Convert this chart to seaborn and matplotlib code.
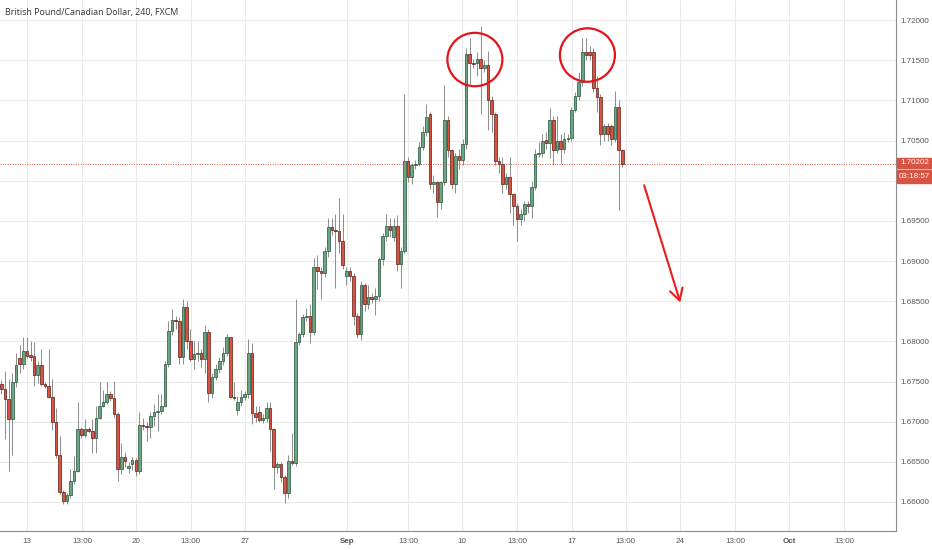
import numpy as np
import pandas as pd
import matplotlib.pyplot as plt
import seaborn as sns
from matplotlib.patches import Ellipse, Rectangle

# ============================================
# DATA - GBP/CAD 4h candles
# ============================================

opens = [
    1.6747, 1.6741, 1.6728, 1.6703, 1.6750, 1.6779, 1.6772, 1.6788, 1.6783, 1.6782,
    1.6758, 1.6770, 1.6747, 1.6745, 1.6731, 1.6700, 1.6659, 1.6613, 1.6601, 1.6609,
    1.6626, 1.6639, 1.6691, 1.6683, 1.6691, 1.6689, 1.6680, 1.6705, 1.6720, 1.6724,
    1.6734, 1.6730, 1.6709, 1.6641, 1.6656, 1.6642, 1.6647, 1.6652, 1.6638, 1.6696,
    1.6695, 1.6693, 1.6707, 1.6712, 1.6713, 1.6720, 1.6772, 1.6813, 1.6826, 1.6825,
    1.6780, 1.6843, 1.6801, 1.6778, 1.6784, 1.6785, 1.6778, 1.6811, 1.6736, 1.6755,
    1.6765, 1.6775, 1.6786, 1.6805, 1.6731, 1.6715, 1.6724, 1.6731, 1.6734, 1.6785,
    1.6711, 1.6712, 1.6702, 1.6704, 1.6717, 1.6691, 1.6644, 1.6647, 1.6631, 1.6611,
    1.6651, 1.6649, 1.6799, 1.6809, 1.6830, 1.6832, 1.6811, 1.6893, 1.6888, 1.6885,
    1.6912, 1.6942, 1.6938, 1.6937, 1.6925, 1.6881, 1.6888, 1.6881, 1.6831, 1.6809,
    1.6870, 1.6847, 1.6855, 1.6853, 1.6856, 1.6902, 1.6931, 1.6944, 1.6930, 1.6944,
    1.6896, 1.6913, 1.7025, 1.7004, 1.7019, 1.7021, 1.7042, 1.7060, 1.7083, 1.6996,
    1.6998, 1.6973, 1.6998, 1.7075, 1.7038, 1.6996, 1.7031, 1.7026, 1.7046, 1.7158,
    1.7146, 1.7146, 1.7152, 1.7140, 1.7144, 1.7101, 1.7083, 1.7025, 1.7021, 1.6996,
    1.7004, 1.6983, 1.6969, 1.6952, 1.6958, 1.6971, 1.6969, 1.6992, 1.7033, 1.7035,
    1.7051, 1.7047, 1.7075, 1.7038, 1.7050, 1.7040, 1.7052, 1.7053, 1.7088, 1.7106,
    1.7123, 1.7160, 1.7160, 1.7160, 1.7115, 1.7104, 1.7058, 1.7068, 1.7068, 1.7052,
    1.7092, 1.7038,
]
highs = [
    1.6752, 1.6763, 1.6753, 1.6761, 1.6786, 1.6795, 1.6805, 1.6806, 1.6800, 1.6799,
    1.6775, 1.6790, 1.6750, 1.6790, 1.6753, 1.6717, 1.6682, 1.6615, 1.6611, 1.6641,
    1.6657, 1.6724, 1.6693, 1.6703, 1.6693, 1.6703, 1.6720, 1.6749, 1.6740, 1.6749,
    1.6738, 1.6751, 1.6712, 1.6674, 1.6662, 1.6650, 1.6656, 1.6655, 1.6712, 1.6704,
    1.6700, 1.6712, 1.6722, 1.6735, 1.6735, 1.6775, 1.6825, 1.6840, 1.6832, 1.6830,
    1.6853, 1.6850, 1.6815, 1.6800, 1.6800, 1.6790, 1.6820, 1.6815, 1.6760, 1.6772,
    1.6780, 1.6793, 1.6809, 1.6806, 1.6749, 1.6732, 1.6740, 1.6738, 1.6803, 1.6798,
    1.6720, 1.6720, 1.6710, 1.6724, 1.6724, 1.6692, 1.6650, 1.6650, 1.6633, 1.6659,
    1.6686, 1.6853, 1.6811, 1.6834, 1.6841, 1.6846, 1.6904, 1.6907, 1.6893, 1.6918,
    1.6954, 1.6954, 1.6958, 1.6979, 1.6958, 1.6892, 1.6893, 1.6885, 1.6835, 1.6875,
    1.6872, 1.6870, 1.6860, 1.6866, 1.6905, 1.6935, 1.6958, 1.6953, 1.6953, 1.6957,
    1.6918, 1.7108, 1.7030, 1.7022, 1.7026, 1.7048, 1.7068, 1.7096, 1.7085, 1.7007,
    1.7000, 1.7000, 1.7119, 1.7080, 1.7040, 1.7035, 1.7040, 1.7052, 1.7165, 1.7177,
    1.7152, 1.7160, 1.7192, 1.7150, 1.7162, 1.7105, 1.7086, 1.7030, 1.7029, 1.7010,
    1.7029, 1.6985, 1.6972, 1.6965, 1.6975, 1.6975, 1.7000, 1.7040, 1.7048, 1.7058,
    1.7060, 1.7090, 1.7080, 1.7080, 1.7058, 1.7060, 1.7058, 1.7092, 1.7110, 1.7135,
    1.7178, 1.7177, 1.7168, 1.7165, 1.7130, 1.7108, 1.7070, 1.7072, 1.7070, 1.7112,
    1.7100, 1.7040,
]
lows = [
    1.6735, 1.6678, 1.6638, 1.6659, 1.6743, 1.6761, 1.6765, 1.6779, 1.6776, 1.6745,
    1.6748, 1.6745, 1.6742, 1.6729, 1.6690, 1.6655, 1.6610, 1.6598, 1.6597, 1.6605,
    1.6622, 1.6637, 1.6680, 1.6681, 1.6686, 1.6661, 1.6661, 1.6703, 1.6718, 1.6722,
    1.6726, 1.6705, 1.6626, 1.6635, 1.6643, 1.6636, 1.6640, 1.6632, 1.6635, 1.6690,
    1.6676, 1.6680, 1.6695, 1.6688, 1.6710, 1.6718, 1.6768, 1.6808, 1.6815, 1.6772,
    1.6772, 1.6790, 1.6775, 1.6765, 1.6775, 1.6768, 1.6760, 1.6725, 1.6730, 1.6752,
    1.6760, 1.6770, 1.6782, 1.6729, 1.6727, 1.6708, 1.6720, 1.6727, 1.6730, 1.6697,
    1.6700, 1.6699, 1.6698, 1.6700, 1.6663, 1.6616, 1.6636, 1.6625, 1.6599, 1.6605,
    1.6646, 1.6645, 1.6795, 1.6805, 1.6825, 1.6798, 1.6808, 1.6865, 1.6853, 1.6880,
    1.6905, 1.6932, 1.6867, 1.6910, 1.6890, 1.6870, 1.6875, 1.6820, 1.6804, 1.6802,
    1.6838, 1.6840, 1.6848, 1.6833, 1.6850, 1.6895, 1.6925, 1.6930, 1.6925, 1.6888,
    1.6867, 1.6910, 1.6998, 1.6996, 1.7015, 1.7018, 1.7038, 1.7055, 1.6990, 1.6985,
    1.6955, 1.6965, 1.6995, 1.7030, 1.6990, 1.6985, 1.7015, 1.7020, 1.7040, 1.7120,
    1.7140, 1.7130, 1.7083, 1.7135, 1.7063, 1.7060, 1.7020, 1.7010, 1.6985, 1.6990,
    1.6960, 1.6945, 1.6925, 1.6945, 1.6950, 1.6960, 1.6954, 1.6988, 1.7030, 1.7030,
    1.7040, 1.7028, 1.7020, 1.7035, 1.7022, 1.7035, 1.7048, 1.7050, 1.7085, 1.7100,
    1.7118, 1.7150, 1.7150, 1.7110, 1.7085, 1.7045, 1.7050, 1.7050, 1.7045, 1.7048,
    1.6963, 1.7017,
]
closes = [
    1.6741, 1.6728, 1.6703, 1.6750, 1.6771, 1.6772, 1.6788, 1.6782, 1.6781, 1.6758,
    1.6770, 1.6747, 1.6745, 1.6731, 1.6700, 1.6659, 1.6613, 1.6601, 1.6609, 1.6626,
    1.6639, 1.6691, 1.6683, 1.6691, 1.6689, 1.6680, 1.6705, 1.6720, 1.6724, 1.6734,
    1.6730, 1.6709, 1.6641, 1.6656, 1.6651, 1.6645, 1.6652, 1.6638, 1.6696, 1.6695,
    1.6693, 1.6707, 1.6712, 1.6713, 1.6720, 1.6772, 1.6813, 1.6826, 1.6825, 1.6780,
    1.6843, 1.6801, 1.6778, 1.6784, 1.6785, 1.6778, 1.6811, 1.6736, 1.6755, 1.6765,
    1.6775, 1.6786, 1.6805, 1.6731, 1.6730, 1.6724, 1.6731, 1.6734, 1.6785, 1.6711,
    1.6706, 1.6702, 1.6704, 1.6717, 1.6691, 1.6644, 1.6647, 1.6631, 1.6611, 1.6651,
    1.6649, 1.6799, 1.6809, 1.6830, 1.6832, 1.6811, 1.6893, 1.6888, 1.6885, 1.6912,
    1.6942, 1.6938, 1.6937, 1.6925, 1.6895, 1.6888, 1.6881, 1.6831, 1.6809, 1.6870,
    1.6847, 1.6855, 1.6853, 1.6856, 1.6902, 1.6931, 1.6944, 1.6938, 1.6944, 1.6896,
    1.6913, 1.7025, 1.7004, 1.7019, 1.7021, 1.7042, 1.7060, 1.7079, 1.6996, 1.6998,
    1.6973, 1.6998, 1.7075, 1.7038, 1.6996, 1.7031, 1.7026, 1.7046, 1.7158, 1.7146,
    1.7145, 1.7152, 1.7140, 1.7144, 1.7101, 1.7083, 1.7025, 1.7021, 1.6996, 1.7004,
    1.6983, 1.6969, 1.6952, 1.6958, 1.6971, 1.6969, 1.6992, 1.7033, 1.7035, 1.7050,
    1.7047, 1.7075, 1.7038, 1.7050, 1.7040, 1.7052, 1.7053, 1.7088, 1.7106, 1.7123,
    1.7160, 1.7157, 1.7157, 1.7115, 1.7104, 1.7058, 1.7068, 1.7058, 1.7052, 1.7092,
    1.7038, 1.70202,
]

last_price = 1.70202
countdown = '03:18:57'
title = 'British Pound/Canadian Dollar, 240, FXCM'

x_tick_pos = [7.1, 22.2, 37.05, 52.1, 67.1, 95.1, 112.1, 126.8,
              142.1, 157.1, 172.0, 186.9, 202.1, 217.0, 232.1]
x_tick_labels = ['13', '13:00', '20', '13:00', '27', 'Sep', '13:00', '10',
                 '13:00', '17', '13:00', '24', '13:00', 'Oct', '13:00']
y_ticks = [1.660, 1.665, 1.670, 1.675, 1.680, 1.685, 1.690,
           1.695, 1.700, 1.705, 1.710, 1.715, 1.720]

df = pd.DataFrame({'open': opens, 'high': highs, 'low': lows, 'close': closes})
df['idx'] = np.arange(len(df))
df['up'] = df['close'] >= df['open']
df['body_lo'] = df[['open', 'close']].min(axis=1)
df['body_h'] = (df['close'] - df['open']).abs().clip(lower=0.00004)

# ============================================
# CHART
# ============================================

sns.set_style('white')
plt.rcParams['font.family'] = ['Liberation Sans', 'DejaVu Sans']

UP, DOWN = '#6ba583', '#d75442'
UP_EDGE, DOWN_EDGE = '#225437', '#5b1a13'

fig = plt.figure(figsize=(9.32, 5.5), dpi=100)
ax = fig.add_axes([0, 19 / 550, 896 / 932, 531 / 550])

# grid
for yv in y_ticks:
    ax.axhline(yv, color='#eaeaea', lw=0.8, zorder=0)
for xv in x_tick_pos:
    ax.axvline(xv, color='#eaeaea', lw=0.8, zorder=0)

# wicks + bodies
ax.vlines(df['idx'], df['low'], df['high'], color='#8c8c8c', lw=0.7, zorder=2)
ax.bar(df['idx'], df['body_h'], bottom=df['body_lo'], width=0.72,
       color=np.where(df['up'], UP, DOWN),
       edgecolor=np.where(df['up'], UP_EDGE, DOWN_EDGE),
       linewidth=0.5, zorder=3)

# last price dotted line
ax.axhline(last_price, color=DOWN, ls=(0, (1, 1.5)), lw=0.7, zorder=1)

# annotations: two tops + arrow
for cx, cy in [(130.4, 1.71508), (161.4, 1.71564)]:
    ax.add_patch(Ellipse((cx, cy), 15.15, 0.00665, fill=False,
                         ec='#e3141b', lw=1.6, zorder=5))
ax.annotate('', xy=(187.2, 1.68452), xytext=(176.8, 1.69975),
            arrowprops=dict(arrowstyle='->,head_length=0.82,head_width=0.47',
                            color='#ee1c1c', lw=1.5, mutation_scale=10))

ax.set_xlim(-0.41, 246.4)
ax.set_ylim(1.65639, 1.72249)

ax.set_xticks(x_tick_pos)
ax.set_xticklabels(x_tick_labels)
for lab in ax.get_xticklabels():
    if lab.get_text() in ('Sep', 'Oct'):
        lab.set_fontweight('bold')

ax.yaxis.tick_right()
ax.set_yticks(y_ticks)
ax.set_yticklabels([f'{v:.5f}' for v in y_ticks])

ax.tick_params(axis='x', length=2.5, width=0.6, color='#8c8c8c', pad=2.5,
               labelsize=5.8, labelcolor='#555555')
ax.tick_params(axis='y', length=2, width=0.6, color='#8c8c8c', pad=1.5,
               labelsize=5.8, labelcolor='#555555')

sns.despine(ax=ax, left=True, top=True, right=False, bottom=False)
for side in ('right', 'bottom'):
    ax.spines[side].set_color('#8c8c8c')
    ax.spines[side].set_linewidth(0.8)

# price tags on the right scale
fig.patches.append(Rectangle((897 / 932, (550 - 168) / 550), 35 / 932, 10 / 550,
                             transform=fig.transFigure, color=DOWN, zorder=5))
fig.patches.append(Rectangle((897 / 932, (550 - 183) / 550), 35 / 932, 13 / 550,
                             transform=fig.transFigure, color=DOWN, zorder=5))
fig.text(914.5 / 932, (550 - 163) / 550, f'{last_price:.5f}', color='white',
         fontsize=5.8, ha='center', va='center', zorder=6)
fig.text(914.5 / 932, (550 - 176.5) / 550, countdown, color='white',
         fontsize=5.8, ha='center', va='center', zorder=6)

fig.text(5 / 932, 1 - 13 / 550, title, fontsize=6.4, color='#333333',
         va='center', ha='left', family=['Open Sans', 'DejaVu Sans'])

fig.savefig('out.png', dpi=100)
